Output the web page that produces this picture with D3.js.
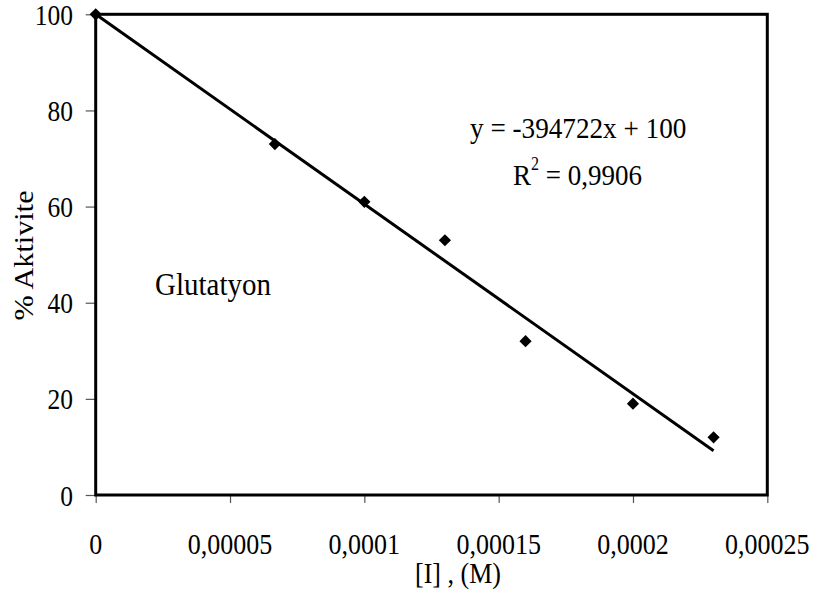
<!DOCTYPE html>
<html>
<head>
<meta charset="utf-8">
<script src="https://cdn.jsdelivr.net/npm/d3@7"></script>
<style>
  body { margin: 0; background: #fff; }
  svg text { font-family: "Liberation Serif", "Times New Roman", serif; fill: #000; }
</style>
</head>
<body>
<script>
// ---- data ----
const concentrations = [0, 0.0000667, 0.0001, 0.00013, 0.00016, 0.0002, 0.00023];
const activity = [100, 73, 61, 53, 32, 19, 12];
const xTickValues = [0, 0.00005, 0.0001, 0.00015, 0.0002, 0.00025];
const xTickLabels = ["0", "0,00005", "0,0001", "0,00015", "0,0002", "0,00025"];
const yTickValues = [0, 20, 40, 60, 80, 100];
const yTickLabels = ["0", "20", "40", "60", "80", "100"];
const fitSlope = [-394722];
const fitIntercept = [100];
const fitRange = [0, 0.00023];
const equationText = ["y = -394722x + 100"];
const r2Text = ["0,9906"];
const seriesName = ["Glutatyon"];
const xTitle = ["[I] , (M)"];
const yTitle = ["% Aktivite"];

const W = 818, H = 608;
const m = { left: 95.7, right: 767.3, top: 14.3, bottom: 495 };
const SY = 1.12; // vertical stretch of text

const svg = d3.select("body").append("svg").attr("width", W).attr("height", H);
svg.append("rect").attr("width", W).attr("height", H).attr("fill", "#fff");

const x = d3.scaleLinear().domain([0, 0.00025]).range([m.left, m.right]);
const y = d3.scaleLinear().domain([0, 100]).range([m.bottom, m.top]);

// axes
const xAxis = svg.append("g").attr("transform", `translate(0,${m.bottom})`)
  .call(d3.axisBottom(x).tickValues(xTickValues).tickSize(8).tickFormat(""));
const yAxis = svg.append("g").attr("transform", `translate(${m.left},0)`)
  .call(d3.axisLeft(y).tickValues(yTickValues).tickSize(10).tickFormat(""));
[xAxis, yAxis].forEach(a => {
  a.select(".domain").remove();
  a.selectAll(".tick line").attr("stroke", "#555").attr("stroke-width", 1.2);
});

function stretchedText(g, px, py, txt, size, anchor) {
  const t = g.append("g").attr("transform", `translate(${px},${py}) scale(1,${SY})`)
    .append("text").attr("font-size", size).attr("text-anchor", anchor || "start").text(txt);
  return t;
}

// tick labels
xTickValues.forEach((v, i) => {
  stretchedText(svg, x(v), 554, xTickLabels[i], 26, "middle");
});
yTickValues.forEach((v, i) => {
  stretchedText(svg, 73, y(v) + 10.5, yTickLabels[i], 25.5, "end");
});

// plot border
svg.append("rect")
  .attr("x", m.left).attr("y", m.top)
  .attr("width", m.right - m.left).attr("height", m.bottom - m.top)
  .attr("fill", "none").attr("stroke", "#000").attr("stroke-width", 3);

// regression line
const fitPts = fitRange.map(v => [v, fitSlope[0] * v + fitIntercept[0]]);
svg.append("path")
  .attr("d", d3.line().x(d => x(d[0])).y(d => y(d[1]))(fitPts))
  .attr("stroke", "#000").attr("stroke-width", 3).attr("fill", "none");

// markers
const diamond = d3.symbol().type(d3.symbolDiamond2).size(95);
svg.selectAll(".pt").data(concentrations.map((c, i) => [c, activity[i]]))
  .join("path").attr("class", "pt")
  .attr("transform", d => `translate(${x(d[0])},${y(d[1])})`)
  .attr("d", diamond).attr("fill", "#000");

// annotations
stretchedText(svg, 470, 138, equationText[0], 27.2, "start");
const r2g = svg.append("g").attr("transform", `translate(513,185) scale(1,${SY})`);
const r2 = r2g.append("text").attr("font-size", 27);
r2.append("tspan").text("R");
r2.append("tspan").attr("font-size", 16).attr("dy", -13).text("2");
r2.append("tspan").attr("dy", 13).text(" = " + r2Text[0]);

stretchedText(svg, 155, 295, seriesName[0], 29, "start");

// axis titles
stretchedText(svg, 458, 583, xTitle[0], 26, "middle");
svg.append("g").attr("transform", `translate(33,255.5) rotate(-90) scale(${SY},1)`)
  .append("text").attr("font-size", 27).attr("text-anchor", "middle").text(yTitle[0]);
</script>
</body>
</html>
